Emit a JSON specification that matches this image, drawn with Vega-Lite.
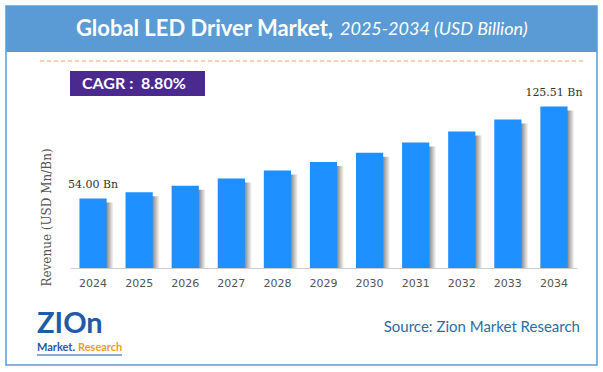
{
  "$schema": "https://vega.github.io/schema/vega-lite/v6.json",
  "autosize": {"type": "none"},
  "width": 507,
  "height": 206,
  "padding": {"left": 70, "top": 62, "right": 26, "bottom": 104},
  "background": "white",
  "config": {
    "view": {"stroke": null},
    "axisX": {"labelAngle": 0, "labelAlign": "center", "labelBaseline": "top", "ticks": false, "domainColor": "#cccccc", "labelFont": "DejaVu Sans", "labelFontSize": 11, "labelColor": "#555555", "labelPadding": 9, "zindex": 1, "grid": false},
    "axisY": {"labels": false, "ticks": false, "domain": false, "grid": false, "titleFont": "DejaVu Serif", "titleFontSize": 12, "titleFontWeight": "normal", "titleColor": "#555555", "titleX": -24, "titleY": 155, "titleAlign": "center", "titleBaseline": "middle", "zindex": 1}
  },
  "data": {"values": [
    {"year": "2024", "value": 54.00},
    {"year": "2025", "value": 58.75},
    {"year": "2026", "value": 63.92},
    {"year": "2027", "value": 69.55},
    {"year": "2028", "value": 75.67},
    {"year": "2029", "value": 82.33},
    {"year": "2030", "value": 89.57},
    {"year": "2031", "value": 97.46},
    {"year": "2032", "value": 106.04},
    {"year": "2033", "value": 115.37},
    {"year": "2034", "value": 125.51}
  ]},
  "layer": [
    {
      "data": {"values": [{}]},
      "mark": {"type": "rect", "fillOpacity": 0, "stroke": "#5B9BD5", "strokeWidth": 1.5},
      "encoding": {"x": {"value": -64}, "x2": {"value": 527}, "y": {"value": -56}, "y2": {"value": 303}}
    },
    {
      "data": {"values": [{}]},
      "mark": {"type": "rect", "fill": "#5B9BD5"},
      "encoding": {"x": {"value": -64}, "x2": {"value": 527}, "y": {"value": -56}, "y2": {"value": -10}}
    },
    {
      "data": {"values": [{"t": "Global LED Driver Market,"}]},
      "mark": {"type": "text", "font": "Lato", "fontWeight": "bold", "fontSize": 22, "color": "white", "align": "right", "baseline": "middle"},
      "encoding": {"x": {"value": 263}, "y": {"value": -33}, "text": {"field": "t"}}
    },
    {
      "data": {"values": [{"t": "2025-2034 (USD Billion)"}]},
      "mark": {"type": "text", "font": "Lato", "fontStyle": "italic", "fontSize": 18, "color": "white", "align": "left", "baseline": "middle"},
      "encoding": {"x": {"value": 270}, "y": {"value": -32}, "text": {"field": "t"}}
    },
    {
      "data": {"values": [{}]},
      "mark": {"type": "rule", "stroke": "#F4A26A", "strokeDash": [4, 3], "strokeWidth": 1},
      "encoding": {"x": {"value": -30}, "x2": {"value": 513}, "y": {"value": -1}}
    },
    {
      "data": {"values": [{}]},
      "mark": {"type": "rect", "fill": "#4B2A8F"},
      "encoding": {"x": {"value": 0}, "x2": {"value": 135}, "y": {"value": 9}, "y2": {"value": 34}}
    },
    {
      "data": {"values": [{"t": "CAGR :\u00a0\u00a08.80%"}]},
      "mark": {"type": "text", "font": "Lato", "fontWeight": "bold", "fontSize": 16, "color": "white", "align": "left", "baseline": "middle"},
      "encoding": {"x": {"value": 12}, "y": {"value": 22}, "text": {"field": "t"}}
    },
    {
      "mark": {"type": "bar", "xOffset": 7, "yOffset": 4, "y2Offset": 0,
        "color": {"gradient": "linear", "x1": 0, "x2": 1, "y1": 0, "y2": 0,
          "stops": [{"offset": 0, "color": "#666666"}, {"offset": 0.74, "color": "#8a8a8a"}, {"offset": 1, "color": "#ffffff"}]}},
      "encoding": {
        "x": {"field": "year", "type": "ordinal", "title": null, "scale": {"paddingInner": 0.41, "paddingOuter": 0.205}},
        "y": {"field": "value", "type": "quantitative", "title": "Revenue (USD Mn/Bn)", "scale": {"domain": [0, 150]}},
        "y2": {"datum": 0}
      }
    },
    {
      "mark": {"type": "bar", "color": "#1E90FF"},
      "encoding": {
        "x": {"field": "year", "type": "ordinal", "title": null, "scale": {"paddingInner": 0.41, "paddingOuter": 0.205}},
        "y": {"field": "value", "type": "quantitative", "title": "Revenue (USD Mn/Bn)", "scale": {"domain": [0, 150]}}
      }
    },
    {
      "transform": [
        {"filter": "datum.year == '2024' || datum.year == '2034'"},
        {"calculate": "format(datum.value, '.2f') + ' Bn'", "as": "label"}
      ],
      "mark": {"type": "text", "font": "DejaVu Serif", "fontSize": 11, "color": "#333333", "dy": -13},
      "encoding": {
        "x": {"field": "year", "type": "ordinal", "title": null},
        "y": {"field": "value", "type": "quantitative", "title": "Revenue (USD Mn/Bn)"},
        "text": {"field": "label"}
      }
    },
    {
      "data": {"values": [{"t": "Source: Zion Market Research"}]},
      "mark": {"type": "text", "font": "Lato", "fontSize": 15, "color": "#2E6DA4", "align": "right", "baseline": "middle"},
      "encoding": {"x": {"value": 510}, "y": {"value": 265}, "text": {"field": "t"}}
    },
    {
      "data": {"values": [{"t": "ZIOn"}]},
      "mark": {"type": "text", "font": "Lato", "fontWeight": "bold", "fontSize": 29, "color": "#1F5BA6", "align": "left", "baseline": "alphabetic"},
      "encoding": {"x": {"value": -33}, "y": {"value": 271}, "text": {"field": "t"}}
    },
    {
      "data": {"values": [{"t": "Market."}]},
      "mark": {"type": "text", "font": "Lato", "fontWeight": "bold", "fontSize": 11, "color": "#1F5BA6", "align": "left", "baseline": "middle"},
      "encoding": {"x": {"value": -33}, "y": {"value": 286}, "text": {"field": "t"}}
    },
    {
      "data": {"values": [{"t": "Research"}]},
      "mark": {"type": "text", "font": "Lato", "fontWeight": "bold", "fontSize": 11, "color": "#F39C1E", "align": "left", "baseline": "middle"},
      "encoding": {"x": {"value": 8}, "y": {"value": 286}, "text": {"field": "t"}}
    },
    {
      "data": {"values": [{}]},
      "mark": {"type": "rule", "stroke": "#1F5BA6", "strokeWidth": 1},
      "encoding": {"x": {"value": -33}, "x2": {"value": 52}, "y": {"value": 293}}
    }
  ]
}
